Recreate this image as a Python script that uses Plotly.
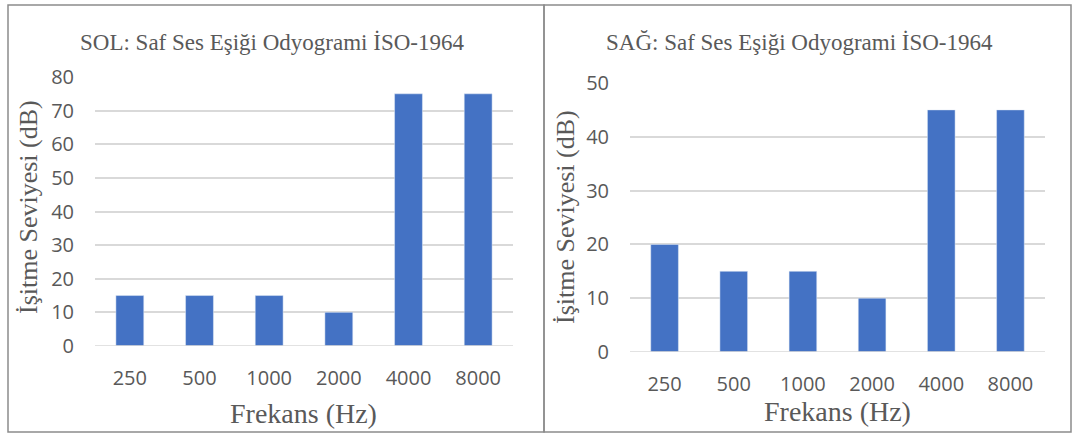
import plotly.graph_objects as go
from plotly.subplots import make_subplots

# Audiogram data (hearing threshold in dB per frequency)
frequencies = ["250", "500", "1000", "2000", "4000", "8000"]
left_ear_db = [15, 15, 15, 10, 75, 75]
right_ear_db = [20, 15, 15, 10, 45, 45]

left_title = "SOL: Saf Ses Eşiği Odyogrami İSO-1964"
right_title = "SAĞ: Saf Ses Eşiği Odyogrami İSO-1964"
x_title = "Frekans (Hz)"
y_title = "İşitme Seviyesi (dB)"

W, H = 1072, 434
BAR = "#4472C4"
GRID = "#D9D9D9"
TXT = "#595959"
SERIF = "Liberation Serif, Times New Roman, serif"
SANS = "Open Sans, sans-serif"

fig = make_subplots(rows=1, cols=2)

fig.add_trace(go.Bar(x=frequencies, y=left_ear_db, marker_color=BAR, width=0.4,
                     showlegend=False), row=1, col=1)
fig.add_trace(go.Bar(x=frequencies, y=right_ear_db, marker_color=BAR, width=0.4,
                     showlegend=False), row=1, col=2)


def px_x(v):
    return v / W


def px_y(v):
    return 1 - v / H


axis_common = dict(showline=False, zeroline=False, ticks="", automargin=False,
                   tickfont=dict(family=SANS, size=20, color=TXT))

fig.update_xaxes(domain=[px_x(95), px_x(513)], row=1, col=1, showgrid=False,
                 ticklabelstandoff=18, **axis_common)
fig.update_xaxes(domain=[px_x(630), px_x(1045)], row=1, col=2, showgrid=False,
                 ticklabelstandoff=18, **axis_common)
fig.update_yaxes(domain=[px_y(346), px_y(77)], range=[0, 80], dtick=10,
                 row=1, col=1, showgrid=True, gridcolor=GRID, gridwidth=1.5,
                 ticklabelstandoff=20, **axis_common)
fig.update_yaxes(domain=[px_y(352), px_y(83)], range=[0, 50], dtick=10,
                 row=1, col=2, showgrid=True, gridcolor=GRID, gridwidth=1.5,
                 ticklabelstandoff=20, **axis_common)

# baseline along y=0
for xd, yd in (("x", "y"), ("x2", "y2")):
    fig.add_shape(type="line", xref=f"{xd} domain", yref=yd, x0=0, x1=1, y0=0, y1=0,
                  line=dict(color=GRID, width=1.5))

# panel frames
fig.add_shape(type="rect", xref="paper", yref="paper",
              x0=px_x(8), x1=px_x(544), y0=px_y(432), y1=px_y(5),
              line=dict(color="#8C8C8C", width=1.5))
fig.add_shape(type="rect", xref="paper", yref="paper",
              x0=px_x(544), x1=px_x(1071), y0=px_y(432), y1=px_y(5),
              line=dict(color="#8C8C8C", width=1.5))

annots = [
    dict(text=left_title, x=px_x(272), y=px_y(43), size=23),
    dict(text=right_title, x=px_x(799), y=px_y(43), size=23),
    dict(text=x_title, x=px_x(303), y=px_y(413), size=28),
    dict(text=x_title, x=px_x(837), y=px_y(411), size=28),
]
for a in annots:
    fig.add_annotation(text=a["text"], x=a["x"], y=a["y"], xref="paper", yref="paper",
                       showarrow=False, xanchor="center", yanchor="middle",
                       font=dict(family=SERIF, size=a["size"], color=TXT))

for xc, yc in ((28, 207), (565, 217)):
    fig.add_annotation(text=y_title, x=px_x(xc), y=px_y(yc), xref="paper", yref="paper",
                       showarrow=False, textangle=-90, xanchor="center", yanchor="middle",
                       font=dict(family=SERIF, size=26, color=TXT))

fig.update_layout(width=W, height=H, margin=dict(l=0, r=0, t=0, b=0), autosize=False,
                  paper_bgcolor="white", plot_bgcolor="white", bargap=0.6)

fig.write_html("out.html")
